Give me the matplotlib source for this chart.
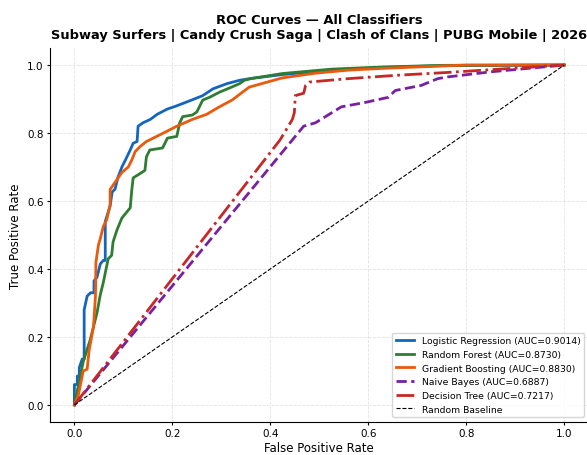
import numpy as np
import matplotlib
matplotlib.use('Agg')
import matplotlib.pyplot as plt

# ROC points (fpr, tpr)
lr_fpr = [0, 0, 0.006, 0.006, 0.01, 0.01, 0.016, 0.02, 0.02, 0.026, 0.033, 0.04, 0.04, 0.046,
          0.053, 0.059, 0.063, 0.063, 0.073, 0.077, 0.083, 0.089, 0.097, 0.104, 0.114, 0.12,
          0.128, 0.13, 0.14, 0.155, 0.169, 0.189, 0.209, 0.236, 0.262, 0.283, 0.311, 0.337,
          0.358, 0.425, 0.526, 0.627, 0.75, 1.0]
lr_tpr = [0, 0.06, 0.06, 0.085, 0.085, 0.11, 0.135, 0.135, 0.28, 0.32, 0.33, 0.33, 0.365, 0.375,
          0.415, 0.425, 0.425, 0.54, 0.585, 0.626, 0.635, 0.67, 0.70, 0.72, 0.75, 0.77,
          0.775, 0.82, 0.83, 0.84, 0.855, 0.87, 0.88, 0.895, 0.91, 0.93, 0.945, 0.955,
          0.96, 0.972, 0.985, 0.993, 0.998, 1.0]

rf_fpr = [0, 0.008, 0.018, 0.032, 0.046, 0.053, 0.059, 0.069, 0.076, 0.079, 0.087, 0.097, 0.114,
          0.117, 0.12, 0.13, 0.144, 0.147, 0.154, 0.18, 0.19, 0.209, 0.215, 0.221, 0.241, 0.25,
          0.262, 0.276, 0.296, 0.316, 0.337, 0.347, 0.36, 0.425, 0.526, 0.627, 0.75, 1.0]
rf_tpr = [0, 0.056, 0.127, 0.19, 0.27, 0.325, 0.36, 0.43, 0.44, 0.48, 0.515, 0.55, 0.58,
          0.63, 0.668, 0.677, 0.69, 0.73, 0.75, 0.756, 0.785, 0.79, 0.83, 0.848, 0.853, 0.862,
          0.897, 0.905, 0.92, 0.932, 0.945, 0.955, 0.96, 0.975, 0.988, 0.994, 0.999, 1.0]

gb_fpr = [0, 0.008, 0.018, 0.026, 0.03, 0.039, 0.043, 0.044, 0.049, 0.053, 0.059, 0.066, 0.073,
          0.073, 0.083, 0.097, 0.11, 0.117, 0.124, 0.134, 0.147, 0.175, 0.209, 0.241, 0.27,
          0.296, 0.322, 0.343, 0.357, 0.424, 0.492, 0.56, 0.627, 0.695, 0.8, 1.0]
gb_tpr = [0, 0.028, 0.1, 0.105, 0.16, 0.23, 0.32, 0.42, 0.47, 0.49, 0.525, 0.545, 0.59,
          0.634, 0.655, 0.684, 0.70, 0.72, 0.745, 0.76, 0.775, 0.795, 0.82, 0.84, 0.855,
          0.877, 0.897, 0.92, 0.935, 0.962, 0.976, 0.985, 0.99, 0.994, 1.0, 1.0]

nb_fpr = [0, 0.468, 0.492, 0.545, 0.594, 0.641, 0.655, 0.708, 0.742, 0.762, 0.85, 1.0]
nb_tpr = [0, 0.82, 0.83, 0.877, 0.89, 0.905, 0.925, 0.94, 0.96, 0.965, 0.98, 1.0]

dt_fpr = [0, 0.42, 0.445, 0.449, 0.451, 0.468, 0.472, 0.48, 0.56, 0.66, 0.76, 1.0]
dt_tpr = [0, 0.78, 0.84, 0.86, 0.91, 0.917, 0.94, 0.95, 0.96, 0.97, 0.978, 1.0]

models = ['Logistic Regression', 'Random Forest', 'Gradient Boosting', 'Naive Bayes', 'Decision Tree']
aucs = [0.9014, 0.8730, 0.8830, 0.6887, 0.7217]
curves = [(lr_fpr, lr_tpr), (rf_fpr, rf_tpr), (gb_fpr, gb_tpr), (nb_fpr, nb_tpr), (dt_fpr, dt_tpr)]
colors = ['#1565C0', '#2E7D32', '#EA5A0C', '#7B1FA2', '#C62828']
styles = ['-', '-', '-', '--', '-.']

fig = plt.figure(figsize=(5.87, 4.56), dpi=100)
ax = fig.add_axes([0.085, 0.0725, 0.918, 0.82])

for name, auc, (fx, ty), c, ls in zip(models, aucs, curves, colors, styles):
    ax.plot(fx, ty, color=c, linestyle=ls, linewidth=2.0, label=f'{name} (AUC={auc:.4f})')
ax.plot([0, 1], [0, 1], 'k--', linewidth=0.8, label='Random Baseline')

ax.set_xlim(-0.05, 1.05)
ax.set_ylim(-0.05, 1.05)
ax.set_xlabel('False Positive Rate', fontsize=8.5, labelpad=2)
ax.set_ylabel('True Positive Rate', fontsize=8.5, labelpad=4)
ax.tick_params(labelsize=7.5, length=2.5, pad=2)
ax.grid(True, linestyle='--', alpha=0.35, linewidth=0.6)
ax.spines['top'].set_visible(False)
ax.spines['right'].set_visible(False)
ax.legend(loc='lower right', fontsize=6.7)
ax.set_title('ROC Curves — All Classifiers\nSubway Surfers | Candy Crush Saga | Clash of Clans | PUBG Mobile | 2026',
             fontsize=9.4, fontweight='bold', pad=7)

fig.savefig('out.png', dpi=100)
